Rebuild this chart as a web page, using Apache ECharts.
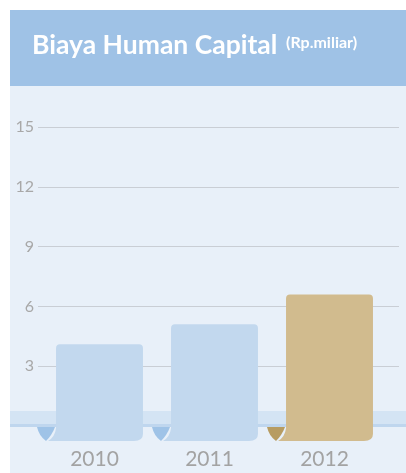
<!DOCTYPE html>
<html><head><meta charset="utf-8">
<script src="https://cdn.jsdelivr.net/npm/echarts@6/dist/echarts.min.js"></script>
<style>html,body{margin:0;padding:0;background:#fff}#c{width:406px;height:473px}</style>
</head><body><div id="c"></div>
<script>
const years = ['2010', '2011', '2012'];
const values = [4.1, 5.1, 6.6];
const barColors = ['#c2d8ee', '#c2d8ee', '#d1bb8e'];
const curlColors = ['#9fc3e7', '#9fc3e7', '#b79c62'];
const yTicks = [0, 3, 6, 9, 12, 15];

const chart = echarts.init(document.getElementById('c'));
chart.setOption({
  animation: false,
  backgroundColor: '#ffffff',
  title: {
    text: 'Biaya Human Capital',
    left: 32, top: 32, padding: 0,
    textStyle: { color: '#ffffff', fontFamily: 'Lato', fontWeight: 'bold', fontSize: 26.5 }
  },
  graphic: [
    { type: 'rect', z: -10, shape: { x: 10, y: 10, width: 396, height: 76 }, style: { fill: '#9fc2e6' } },
    { type: 'rect', z: -10, shape: { x: 10, y: 86, width: 396, height: 387 }, style: { fill: '#e8f0f9' } },
    { type: 'rect', z: 1, shape: { x: 10, y: 411, width: 396, height: 13 }, style: { fill: '#d4e4f4' } },
    { type: 'rect', z: 1, shape: { x: 10, y: 424, width: 396, height: 3 }, style: { fill: '#bfd6ee' } },
    { type: 'text', z: 5, left: 286, top: 35, style: { text: '(Rp.miliar)', fill: '#ffffff', font: 'bold 16px Lato' } }
  ],
  grid: [
    { left: 38, right: 7, top: 127, bottom: 47 },
    { left: 42, right: 19, top: 127, bottom: 47 }
  ],
  xAxis: [
    { type: 'category', gridIndex: 0, data: years, show: false },
    {
      type: 'category', gridIndex: 1, data: years,
      axisLine: { show: false }, axisTick: { show: false },
      axisLabel: { margin: 23, fontSize: 21, color: '#a3a3a3', fontFamily: 'Lato', padding: [0, 10, 0, 0] }
    }
  ],
  yAxis: [
    {
      type: 'value', gridIndex: 0, min: yTicks[0], max: yTicks[yTicks.length - 1], interval: 3,
      axisLine: { show: false }, axisTick: { show: false },
      axisLabel: { margin: 4, fontSize: 16, color: '#a8a8a8', fontFamily: 'Lato',
        formatter: v => (v === 0 ? '' : String(v)) },
      splitLine: { lineStyle: { color: '#c9ced5', width: 1 } }
    },
    { type: 'value', gridIndex: 1, min: 0, max: 15, show: false }
  ],
  series: [{
    type: 'custom',
    xAxisIndex: 1, yAxisIndex: 1,
    z: 3,
    data: values.map((v, i) => [i, v]),
    renderItem: function (params, api) {
      const i = api.value(0);
      const top = api.coord([i, api.value(1)]);
      const base = api.coord([i, 0]);
      const band = api.size([1, 0])[0];
      const w = band * 0.756;
      const L = top[0] - w / 2, R = top[0] + w / 2, T = top[1];
      const y0 = base[1] + 1, B = base[1] + 15;
      const barPath = [
        'M', L, T + 4, 'Q', L, T, L + 4, T,
        'L', R - 4, T, 'Q', R, T, R, T + 4,
        'L', R, B - 7, 'Q', R, B, R - 9, B,
        'L', L - 8, B, 'Q', L - 1, B - 4, L, y0 + 1, 'Z'
      ].join(' ');
      const curlPath = [
        'M', L - 19, y0, 'Q', L - 17, B - 5, L - 10, B,
        'Q', L - 4, B - 6, L - 1, y0, 'Z'
      ].join(' ');
      return {
        type: 'group',
        children: [
          { type: 'path', shape: { pathData: curlPath }, style: { fill: curlColors[params.dataIndex] } },
          { type: 'path', shape: { pathData: barPath }, style: { fill: barColors[params.dataIndex] } }
        ]
      };
    }
  }]
});
</script></body></html>
